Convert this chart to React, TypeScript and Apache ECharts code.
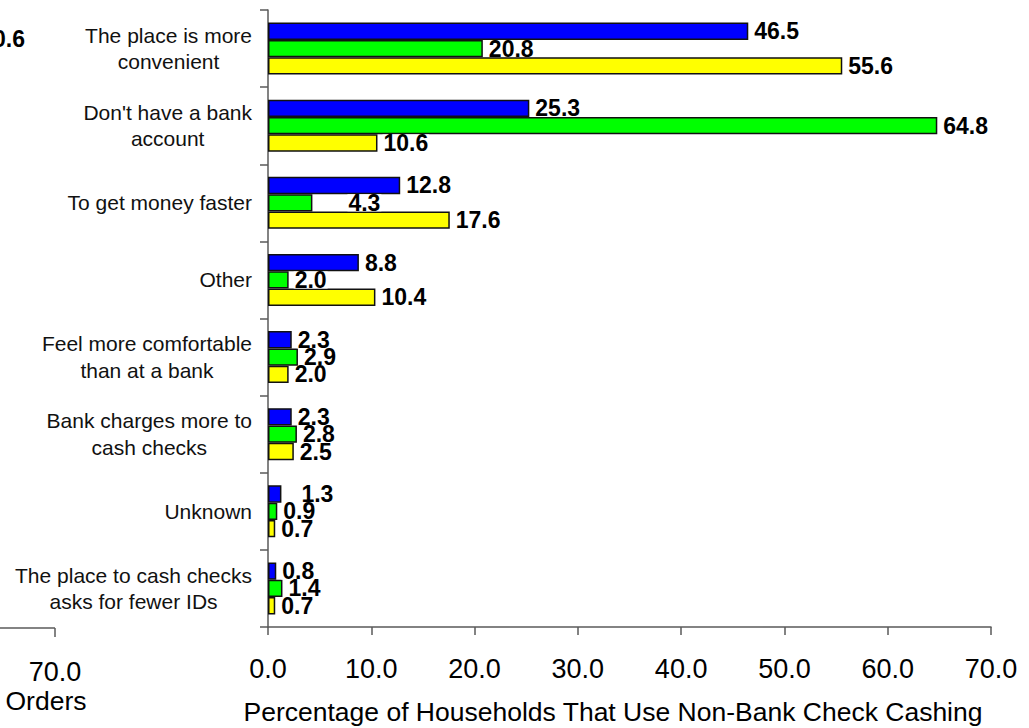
import React, { useEffect, useRef } from "react";
import * as echarts from "echarts";

// Reasons for using non-bank check cashing, by household group
const categories = [
  "The place is more\nconvenient",
  "Don't have a bank\naccount",
  "To get money faster",
  "Other",
  "Feel more comfortable\nthan at a bank",
  "Bank charges more to\ncash checks",
  "Unknown",
  "The place to cash checks\nasks for fewer IDs",
];

const blueValues = [46.5, 25.3, 12.8, 8.8, 2.3, 2.3, 1.3, 0.8];
const greenValues = [20.8, 64.8, 4.3, 2.0, 2.9, 2.8, 0.9, 1.4];
const yellowValues = [55.6, 10.6, 17.6, 10.4, 2.0, 2.5, 0.7, 0.7];

const xTicks = [0, 10, 20, 30, 40, 50, 60, 70];

const axisTitle = "Percentage of Households That Use Non-Bank Check Cashing";

const FONT = '"Liberation Sans", Arial, Helvetica, sans-serif';
const AXIS_GRAY = "#5a5a5a";

function barSeries(name: string, values: number[], color: string, shifts: Record<number, number>) {
  return {
    name,
    type: "bar",
    barGap: "0%",
    barCategoryGap: "32.5%",
    data: values.map((v, i) => ({
      value: v,
      label: shifts[i] ? { offset: [shifts[i], 0] } : undefined,
    })),
    itemStyle: { color, borderColor: "#111", borderWidth: 1.5 },
    label: {
      show: true,
      position: "right",
      distance: 5,
      formatter: (p: any) => Number(p.value).toFixed(1),
      fontFamily: FONT,
      fontWeight: "bold",
      fontSize: 23,
      color: "#000",
      lineHeight: 17,
      backgroundColor: "#fff",
      padding: [0, 1],
    },
  };
}

export default function App() {
  const ref = useRef<HTMLDivElement>(null);

  useEffect(() => {
    if (!ref.current) return;
    const chart = echarts.init(ref.current, null, { renderer: "svg" });

    chart.setOption({
      animation: false,
      backgroundColor: "#fff",
      grid: {
        left: 268,
        right: 38,
        top: 10,
        bottom: 101,
        containLabel: false,
        outerBoundsMode: "none",
      },
      xAxis: {
        type: "value",
        min: xTicks[0],
        max: xTicks[xTicks.length - 1],
        interval: xTicks[1] - xTicks[0],
        splitLine: { show: false },
        axisLine: { show: true, lineStyle: { color: AXIS_GRAY, width: 1.5 } },
        axisTick: { show: true, length: 8, lineStyle: { color: AXIS_GRAY, width: 1.5 } },
        axisLabel: {
          margin: 28,
          fontFamily: FONT,
          fontSize: 27,
          color: "#000",
          formatter: (v: number) => v.toFixed(1),
        },
      },
      yAxis: {
        type: "category",
        inverse: true,
        data: categories,
        axisLine: { show: true, lineStyle: { color: AXIS_GRAY, width: 1.5 } },
        axisTick: { show: true, length: 8, lineStyle: { color: AXIS_GRAY, width: 1.5 } },
        axisLabel: {
          margin: 16,
          formatter: (v: string) =>
            v
              .split("\n")
              .map((line) => `{c|${line}}`)
              .join("\n"),
          rich: {
            c: {
              align: "center",
              fontFamily: FONT,
              fontSize: 21,
              lineHeight: 26.5,
              color: "#111",
            },
          },
        },
      },
      series: [
        barSeries("blue", blueValues, "#0000ff", { 6: 14 }),
        barSeries("green", greenValues, "#00ff00", { 2: 30 }),
        barSeries("yellow", yellowValues, "#ffff00", {}),
      ],
      graphic: [
        {
          type: "text",
          x: 613,
          y: 712,
          style: {
            text: axisTitle,
            fontFamily: FONT,
            fontSize: 26.5,
            fill: "#000",
            textAlign: "center",
            textVerticalAlign: "middle",
          },
        },
        // neighbouring panel fragment on the left edge
        {
          type: "text",
          x: 25,
          y: 39,
          style: {
            text: "0.6",
            fontFamily: FONT,
            fontWeight: "bold",
            fontSize: 23,
            fill: "#000",
            textAlign: "right",
            textVerticalAlign: "middle",
          },
        },
        {
          type: "line",
          shape: { x1: 0, y1: 628, x2: 55, y2: 628 },
          style: { stroke: AXIS_GRAY, lineWidth: 1.5 },
        },
        {
          type: "line",
          shape: { x1: 55, y1: 628, x2: 55, y2: 637 },
          style: { stroke: AXIS_GRAY, lineWidth: 1.5 },
        },
        {
          type: "text",
          x: 55,
          y: 672,
          style: {
            text: "70.0",
            fontFamily: FONT,
            fontSize: 27,
            fill: "#000",
            textAlign: "center",
            textVerticalAlign: "middle",
          },
        },
        {
          type: "text",
          x: 46,
          y: 701,
          style: {
            text: "Orders",
            fontFamily: FONT,
            fontSize: 26.5,
            fill: "#000",
            textAlign: "center",
            textVerticalAlign: "middle",
          },
        },
      ],
    });

    return () => chart.dispose();
  }, []);

  return (
    <div
      ref={ref}
      style={{ position: "fixed", left: 0, top: 0, width: 1029, height: 728 }}
    />
  );
}
